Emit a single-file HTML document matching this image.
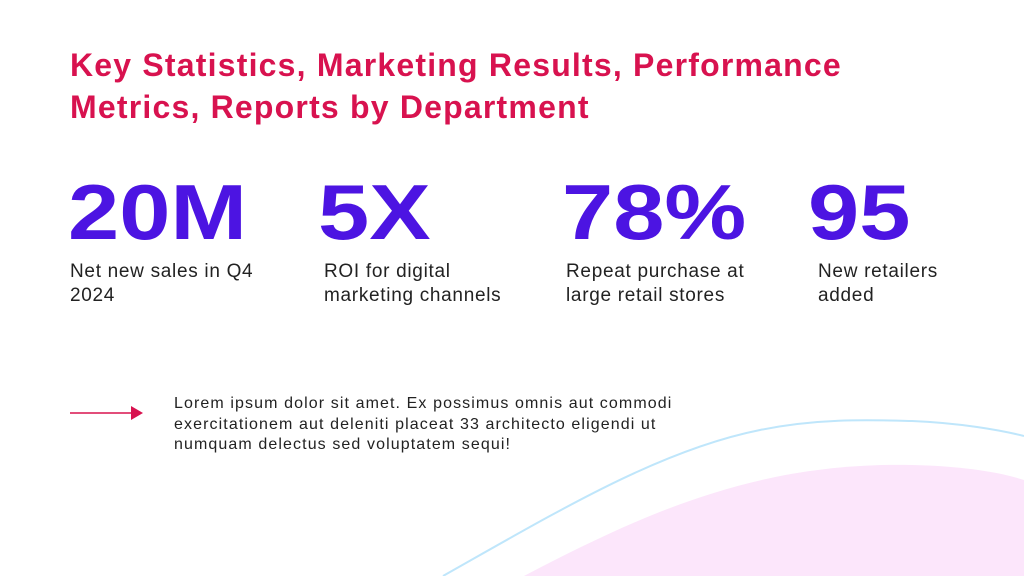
<!DOCTYPE html>
<html><head><meta charset="utf-8"><style>
body{margin:0;width:1024px;height:576px;overflow:hidden;background:#fff;font-family:"Liberation Sans",sans-serif;position:relative}
.t{position:absolute;left:70px;top:44px;color:#d8124f;font-weight:bold;font-size:32px;line-height:42px;letter-spacing:1.2px;white-space:nowrap}
.n{position:absolute;top:169px;color:#4c14e2;font-weight:bold;font-size:78px;line-height:86px;transform:scaleX(1.18);transform-origin:left}
.l{position:absolute;top:260px;color:#222;font-size:19px;line-height:24px;letter-spacing:0.7px;white-space:nowrap}
.p{position:absolute;left:174px;top:394px;color:#222;font-size:16px;line-height:20.5px;letter-spacing:1.1px;white-space:nowrap}
svg{position:absolute;left:0;top:0}
</style></head><body>
<svg width="1024" height="576">
<path d="M524 576 C650 510 760 462 912 465 C960 466 1000 472 1024 480 L1024 576 Z" fill="#fce6fb"/>
<path d="M443 576 C560 510 660 450 760 430 C820 418 870 420 912 421 C960 423 1000 430 1024 436" fill="none" stroke="#bfe6fb" stroke-width="2"/>
<line x1="70" y1="413" x2="140" y2="413" stroke="#d8124f" stroke-width="1.5"/>
<path d="M131 406 L143 413 L131 420 Z" fill="#d8124f"/>
</svg>
<div class="t">Key Statistics, Marketing Results, Performance<br>Metrics, Reports by Department</div>
<div class="n" style="left:68px">20M</div>
<div class="n" style="left:318px">5X</div>
<div class="n" style="left:562px">78%</div>
<div class="n" style="left:808px">95</div>
<div class="l" style="left:70px">Net new sales in Q4<br>2024</div>
<div class="l" style="left:324px">ROI for digital<br>marketing channels</div>
<div class="l" style="left:566px">Repeat purchase at<br>large retail stores</div>
<div class="l" style="left:818px">New retailers<br>added</div>
<div class="p">Lorem ipsum dolor sit amet. Ex possimus omnis aut commodi<br>exercitationem aut deleniti placeat 33 architecto eligendi ut<br>numquam delectus sed voluptatem sequi!</div>
</body></html>
